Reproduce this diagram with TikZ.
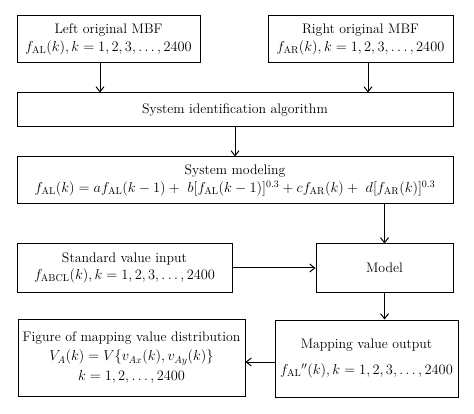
\documentclass[tikz,border=0pt]{standalone}
\usepackage{amsmath}
\usetikzlibrary{positioning,arrows.meta,calc}

\begin{document}
\begin{tikzpicture}[
    x=1pt,y=1pt,
    font=\fontsize{13.8}{17.5}\selectfont,
    >={Straight Barb[length=5pt,width=8pt]},
    box/.style={draw,line width=1pt,align=center,inner sep=2pt},
    ar/.style ={->,line width=1pt},
  ]
  \useasboundingbox (0,0) rectangle (474,-414);

  % ---------- INPUTS (top) ----------
  \node[box,minimum width=183,minimum height=47] (lf) at (108.5,-39.5)
        {Left original MBF\\$f_{\mathrm{AL}}(k), k = 1, 2, 3, \ldots, 2400$};
  \node[box,minimum width=185,minimum height=47] (rt) at (360.5,-39.5)
        {Right original MBF\\$f_{\mathrm{AR}}(k), k = 1, 2, 3, \ldots, 2400$};
  \node[box,minimum width=436,minimum height=34] (sid) at (235,-110)
        {System identification algorithm};

  \draw[ar] ([xshift=-8.5]lf.south) -- ([xshift=-8.5]lf.south |- sid.north);
  \draw[ar] ([xshift=7.5]rt.south) -- ([xshift=7.5]rt.south |- sid.north);

  % ---------- MODELING ----------
  \node[box,minimum width=436,minimum height=47] (smod) at (235,-180.5)
        {System modeling\\$f_{\mathrm{AL}}(k) = a f_{\mathrm{AL}}(k-1) +\ b[f_{\mathrm{AL}}(k-1)]^{0.3} + c f_{\mathrm{AR}}(k) +\ d[f_{\mathrm{AR}}(k)]^{0.3}$};
  \draw[ar] (sid) -- (smod);

  \node[box,minimum width=215,minimum height=48] (std) at (124.5,-268)
        {Standard value input\\$f_{\mathrm{ABCL}}(k), k = 1, 2, 3, \ldots, 2400$};
  \node[box,minimum width=137,minimum height=48] (mdl) at (384.5,-268) {Model};

  \draw[ar] (mdl.north |- smod.south) -- (mdl.north);
  \draw[ar] (std) -- (mdl);

  % ---------- OUTPUT (bottom) ----------
  \node[box,minimum width=183,minimum height=77] (mapo) at (366.5,-358.5)
        {Mapping value output\\[8pt]$f_{\mathrm{AL}}{}''(k), k = 1, 2, 3, \ldots, 2400$};
  \node[box,minimum width=227,minimum height=77] (fig) at (131.5,-357.5)
        {Figure of mapping value distribution\\[2pt]$V_A(k) = V\{v_{Ax}(k), v_{Ay}(k)\}$\\[2pt]$k = 1, 2, \ldots, 2400$};

  \draw[ar] (mdl.south) -- (mdl.south |- mapo.north);
  \draw[ar] ([yshift=-3.5]mapo.west) -- ([yshift=-3.5]mapo.west -| fig.east);

\end{tikzpicture}
\end{document}
